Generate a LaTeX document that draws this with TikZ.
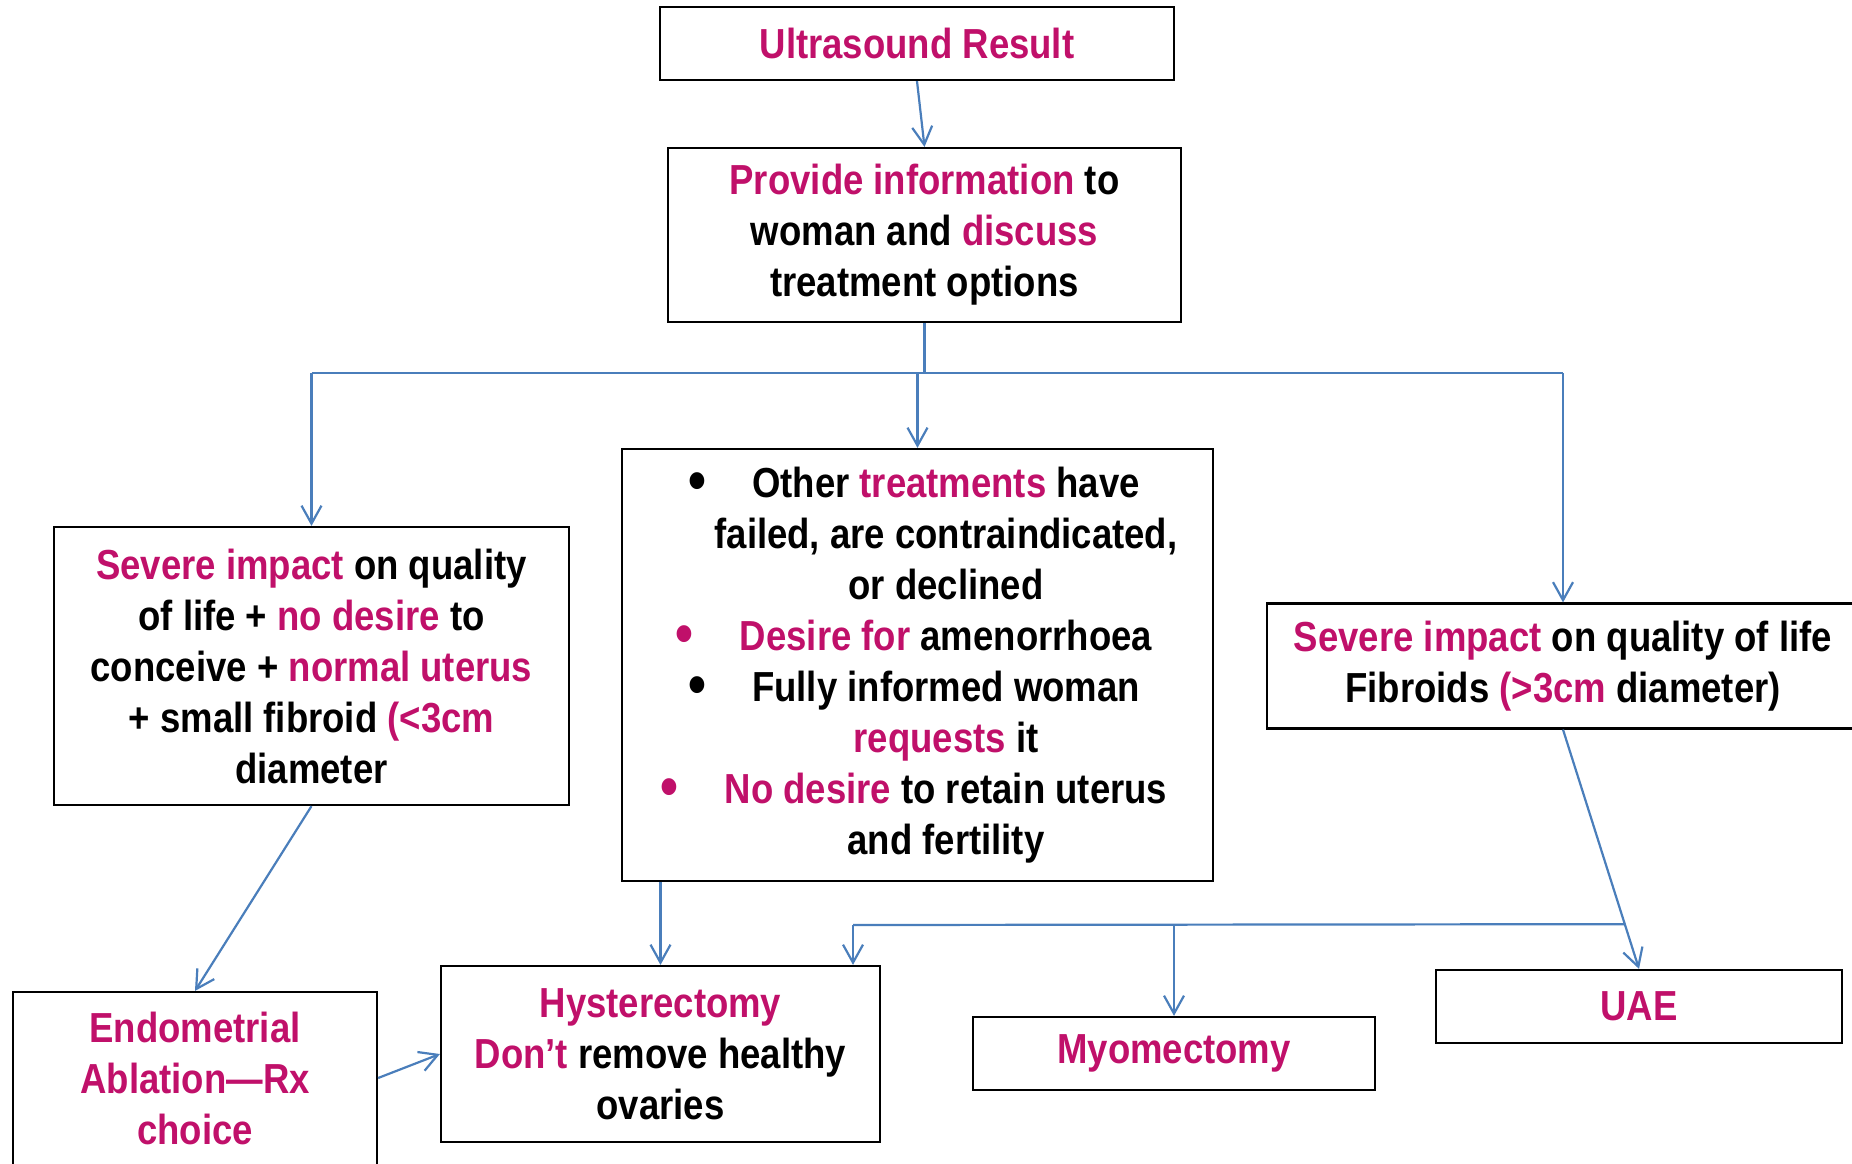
\documentclass[tikz,border=0pt]{standalone}
\usepackage{fontspec}
\setmainfont{Liberation Sans}[FakeStretch=0.87]
\usetikzlibrary{arrows.meta,calc}
\definecolor{mag}{RGB}{192,16,106}
\definecolor{arr}{RGB}{74,126,187}
\newcommand{\mg}[1]{\textcolor{mag}{#1}}
\newcommand{\bul}[1][black]{\llap{\textcolor{#1}{\raisebox{-0.07em}{\scalebox{1.4}{\textbullet}}}\hspace{46pt}}}
\begin{document}
\begin{tikzpicture}[x=1pt,y=-1pt,
 box/.style={draw=black,line width=2.2pt,align=center,font=\fontsize{42}{51}\selectfont\bfseries,inner sep=0pt,anchor=center},
 txt/.style={align=center,font=\fontsize{42}{51}\selectfont\bfseries,inner sep=0pt,anchor=center},
 conn/.style={draw=arr,line width=2.2pt,-{Straight Barb[length=18pt,width=20pt,line width=2.2pt]}},
 ln/.style={draw=arr,line width=2.2pt}]
\useasboundingbox (0,0) rectangle (1852,1163);
% boxes
\node[box,minimum width=514pt,minimum height=73pt] (us) at (917,43.5) {\mg{Ultrasound Result}};
\node[box,minimum width=513pt,minimum height=174pt] (prov) at (924.5,235)
  {\mg{Provide information} to\\ woman and \mg{discuss}\\ treatment options};
\node[box,minimum width=515pt,minimum height=278pt] (left) at (311.5,666)
  {\mg{Severe impact} on quality\\ of life + \mg{no desire} to\\ conceive + \mg{normal uterus}\\ + small fibroid \mg{(<3cm}\\ diameter};
\node[box,minimum width=591pt,minimum height=432pt] (mid) at (917.5,665) {};
\node[txt] (midtxt) at (946,665)
  {\bul Other \mg{treatments} have\\
   failed, are contraindicated,\\
   or declined\\
   \bul[mag]\mg{Desire for} amenorrhoea\\
   \bul Fully informed woman\\
   \mg{requests} it\\
   \bul[mag]\mg{No desire} to retain uterus\\
   and fertility};
\node[box,minimum width=592pt,minimum height=125pt] (right) at (1563,666)
  {\mg{Severe impact} on quality of life\\ Fibroids \mg{(>3cm} diameter)};
\node[box,minimum width=364pt,minimum height=186pt] (endo) at (195,1085) {};
\node[txt] (endotxt) at (195,1078)
  {\mg{Endometrial}\\ \mg{Ablation—Rx}\\ \mg{choice}};
\node[box,minimum width=439pt,minimum height=176pt] (hyst) at (660.5,1054)
  {\mg{Hysterectomy}\\ \mg{Don’t} remove healthy\\ ovaries};
\node[box,minimum width=402pt,minimum height=73pt] (myo) at (1174,1053.5) {\mg{Myomectomy}};
\node[box,minimum width=406pt,minimum height=73pt] (uae) at (1639,1006.5) {\mg{UAE}};
% connectors
\coordinate (split) at (924.5,373);
\draw[conn] (us.south) -- (prov.north);
\draw[ln] (prov.south) -- (split);
\draw[ln] (split -| left.north) -- (split -| right.north);
\draw[conn] (split -| left.north) -- (left.north);
\draw[conn] (split -| mid.north) -- (mid.north);
\draw[conn] (split -| right.north) -- (right.north);
\draw[conn] (left.south) -- (endo.north);
\draw[conn] (endo.east |- endotxt) -- (hyst.west);
\draw[conn] (mid.south -| hyst.north) -- (hyst.north);
\draw[conn] (right.south) -- (uae.north);
\coordinate (branch) at ($(right.south)!0.813!(uae.north)$);
\coordinate (hl) at (853,925);
\draw[ln] (branch) -- (hl);
\draw[conn] (hl) -- (hl |- hyst.north);
\draw[conn] (branch -| myo.north) -- (myo.north);
\end{tikzpicture}
\end{document}
